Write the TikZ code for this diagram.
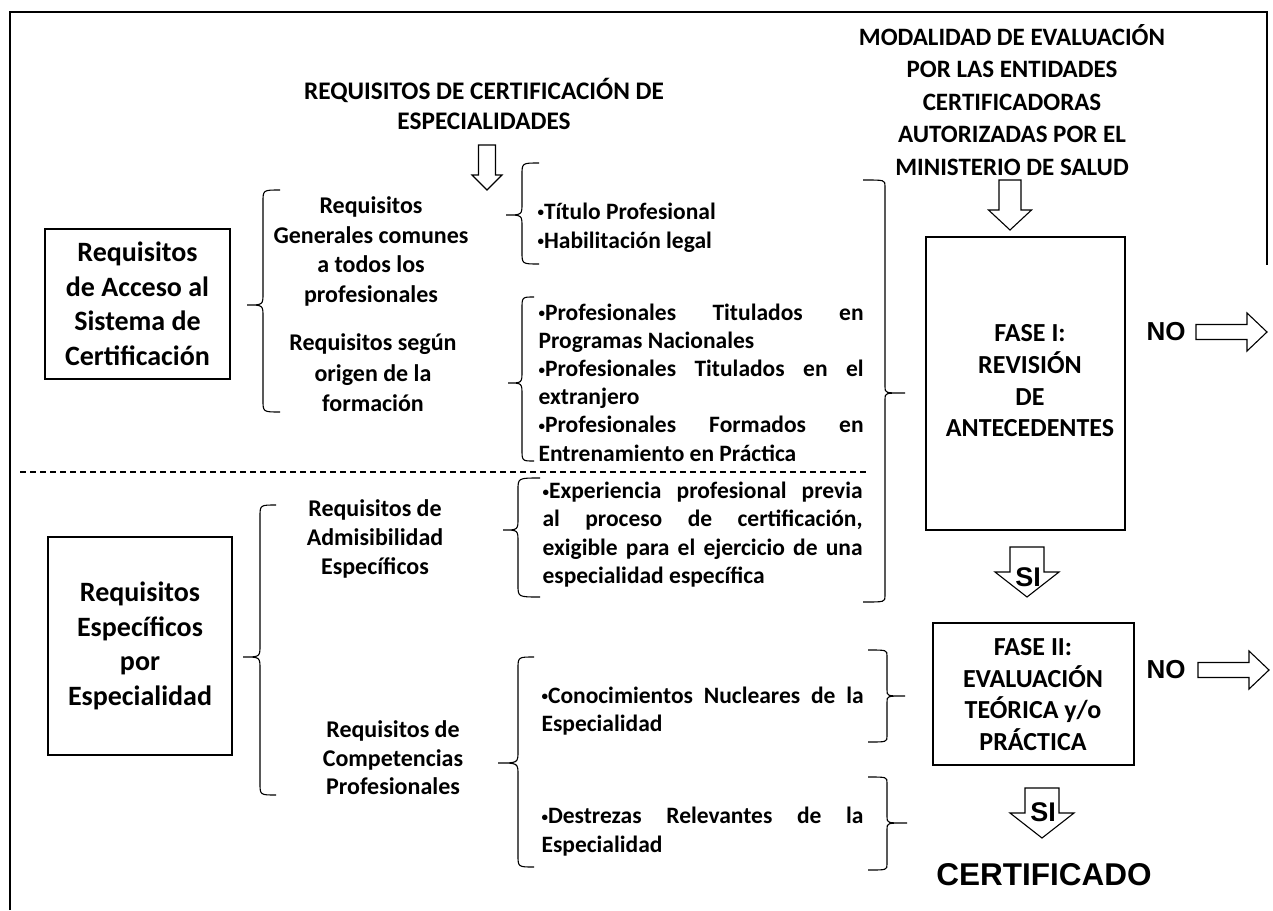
\documentclass[tikz,border=0pt]{standalone}
\usepackage{fontspec}
\setmainfont{Carlito}
\newfontfamily\arialfont{Liberation Sans}
\usetikzlibrary{calc}
\newcommand\bulletmark{\raisebox{2.5pt}{\fontsize{13}{13}\selectfont •}}
\newcommand\LeftBr[6]{\draw[brace] (#1,#4) .. controls (#2,#4) .. (#2,{#4+12}) -- (#2,{#5-12}) .. controls (#2,#5) .. (#3,#5) .. controls (#2,#5) .. (#2,{#5+12}) -- (#2,{#6-12}) .. controls (#2,#6) .. (#1,#6);}
\newcommand\RightBr[6]{\draw[brace] (#1,#4) .. controls (#2,#4) .. (#2,{#4+6}) -- (#2,{#5-6}) .. controls (#2,#5) .. (#3,#5) .. controls (#2,#5) .. (#2,{#5+6}) -- (#2,{#6-6}) .. controls (#2,#6) .. (#1,#6);}
% #1 top coordinate, #2 shaft half width, #3 head half width, #4 shaft length, #5 head length
\newcommand\DownBlock[5]{\draw[blockarrow] ($(#1)+(-#2,0)$) -- ($(#1)+(#2,0)$) -- ($(#1)+(#2,#4)$) -- ($(#1)+(#3,#4)$) -- ($(#1)+(0,#4+#5)$) -- ($(#1)+(-#3,#4)$) -- ($(#1)+(-#2,#4)$) -- cycle;}
\newcommand\RightBlock[5]{\draw[blockarrow] ($(#1)+(0,-#2)$) -- ($(#1)+(#4,-#2)$) -- ($(#1)+(#4,-#3)$) -- ($(#1)+(#4+#5,0)$) -- ($(#1)+(#4,#3)$) -- ($(#1)+(#4,#2)$) -- ($(#1)+(0,#2)$) -- cycle;}
\begin{document}
\begin{tikzpicture}[x=1pt,y=-1pt,line width=1.2pt,
  brace/.style={line width=1.1pt},
  blockarrow/.style={line width=1.1pt,fill=white},
  frame/.style={line width=1.4pt},
  boxnode/.style={draw,line width=1.4pt,inner sep=0pt,align=center,font=\bfseries\fontsize{28}{34.5}\selectfont},
  titletxt/.style={inner sep=0pt,align=center,font=\bfseries\fontsize{25.3}{30}\selectfont},
  midtxt/.style={inner sep=0pt,align=center,font=\bfseries\fontsize{24}{29.7}\selectfont},
  listtxt/.style={inner sep=0pt,align=left,anchor=west,font=\bfseries\fontsize{23.5}{28.2}\selectfont},
  fasetxt/.style={inner sep=0pt,align=center,font=\bfseries\fontsize{26}{31.7}\selectfont},
  arialtxt/.style={inner sep=0pt,font=\arialfont\bfseries\fontsize{26}{30}\selectfont}]
\useasboundingbox (0,0) rectangle (1273,910);
\fill[white] (0,0) rectangle (1273,910);
% frame
\draw[frame] (10,910) -- (10,12) -- (1267,12) -- (1267,265);
% titles
\node[titletxt] (t1) at (484,104) {REQUISITOS DE CERTIFICACIÓN DE\\ESPECIALIDADES};
\node[titletxt,font=\bfseries\fontsize{25}{32.5}\selectfont] (t2) at (1012,100) {MODALIDAD DE EVALUACIÓN\\POR LAS ENTIDADES\\CERTIFICADORAS\\AUTORIZADAS POR EL\\MINISTERIO DE SALUD};
% left boxes
\node[boxnode,minimum width=185pt,minimum height=150pt] (b1) at (137.5,304) {Requisitos\\de Acceso al\\Sistema de\\Certificación};
\node[boxnode,minimum width=184pt,minimum height=218pt] (b2) at (140,646) {Requisitos\\Específicos\\por\\Especialidad};
% middle texts
\node[midtxt] (m1) at (371,251.5) {Requisitos\\Generales comunes\\a todos los\\profesionales};
\node[midtxt,font=\bfseries\fontsize{24}{30.5}\selectfont] (m2) at (373,373) {Requisitos según\\origen de la\\formación};
\node[midtxt,font=\bfseries\fontsize{24}{29}\selectfont] (m3) at (375,539) {Requisitos de\\Admisibilidad\\Específicos};
\node[midtxt,font=\bfseries\fontsize{24}{28.5}\selectfont] (m4) at (393,758) {Requisitos de\\Competencias\\Profesionales};
% lists
\node[listtxt,font=\bfseries\fontsize{23.5}{29}\selectfont] (l1) at (537,227.5) {\bulletmark Título Profesional\\\bulletmark Habilitación legal};
\node[listtxt] (l2) at (538,382.5) {\makebox[325pt][s]{\bulletmark Profesionales Titulados en}\\Programas Nacionales\\\makebox[325pt][s]{\bulletmark Profesionales Titulados en el}\\extranjero\\\makebox[325pt][s]{\bulletmark Profesionales Formados en}\\Entrenamiento en Práctica};
\node[listtxt] (l3) at (542,534.5) {\makebox[320pt][s]{\bulletmark Experiencia profesional previa}\\\makebox[320pt][s]{al proceso de certificación,}\\\makebox[320pt][s]{exigible para el ejercicio de una}\\especialidad específica};
\node[listtxt] (l4) at (541,711) {\makebox[322pt][s]{\bulletmark Conocimientos Nucleares de la}\\Especialidad};
\node[listtxt] (l5) at (541,831.5) {\makebox[322pt][s]{\bulletmark Destrezas Relevantes de la}\\Especialidad};
% dashed separator
\coordinate (dl) at (20,472);
\coordinate (dr) at (867,472);
\draw[line width=1.6pt,dash pattern=on 6pt off 4pt] (dl) -- (dr);
% braces
\LeftBr{280}{263}{247}{190}{305}{412}
\LeftBr{539}{522}{506}{163}{215}{264}
\LeftBr{534}{522}{508}{297}{383}{461}
\LeftBr{540}{518}{503}{478}{530}{597}
\LeftBr{276}{260}{243}{505}{657}{795}
\LeftBr{534}{518}{498}{657}{763}{867}
\RightBr{863}{885}{905}{180}{393}{602}
\RightBr{868}{887}{905}{650}{696}{742}
\RightBr{868}{887}{907}{777}{823}{870}
% phase boxes
\node[boxnode,minimum width=199pt,minimum height=293pt] (f1) at (1025.5,383.5) {};
\node[fasetxt] (f1t) at (1030,381) {FASE I:\\REVISIÓN\\DE\\ANTECEDENTES};
\node[boxnode,minimum width=201pt,minimum height=142pt] (f2) at (1033.5,694) {};
\node[fasetxt] (f2t) at (1033,694.5) {FASE II:\\EVALUACIÓN\\TEÓRICA y/o\\PRÁCTICA};
\node[arialtxt,font=\arialfont\bfseries\fontsize{31.5}{36}\selectfont] (cert) at (1044,875) {CERTIFICADO};
% arrows
\coordinate (a1) at (487,145);
\DownBlock{a1}{8.5}{15}{30}{15}
\coordinate (a2) at (1010,180);
\DownBlock{a2}{11}{21.5}{30}{20}
\coordinate (s1) at (1027,547);
\DownBlock{s1}{17}{32}{25}{25}
\node[arialtxt,font=\arialfont\bfseries\fontsize{27}{30}\selectfont] (si1) at (1028,577) {SI};
\coordinate (s2) at (1042,788);
\DownBlock{s2}{17}{32}{25}{25}
\node[arialtxt,font=\arialfont\bfseries\fontsize{27}{30}\selectfont] (si2) at (1043,812) {SI};
\node[arialtxt] (no1) at (1166,332) {NO};
\node[arialtxt] (no2) at (1166,670) {NO};
\coordinate (n1) at (1196,332);
\RightBlock{n1}{7.5}{19}{51}{20}
\coordinate (n2) at (1198,670);
\RightBlock{n2}{7.5}{19}{51}{20}
\end{tikzpicture}
\end{document}
